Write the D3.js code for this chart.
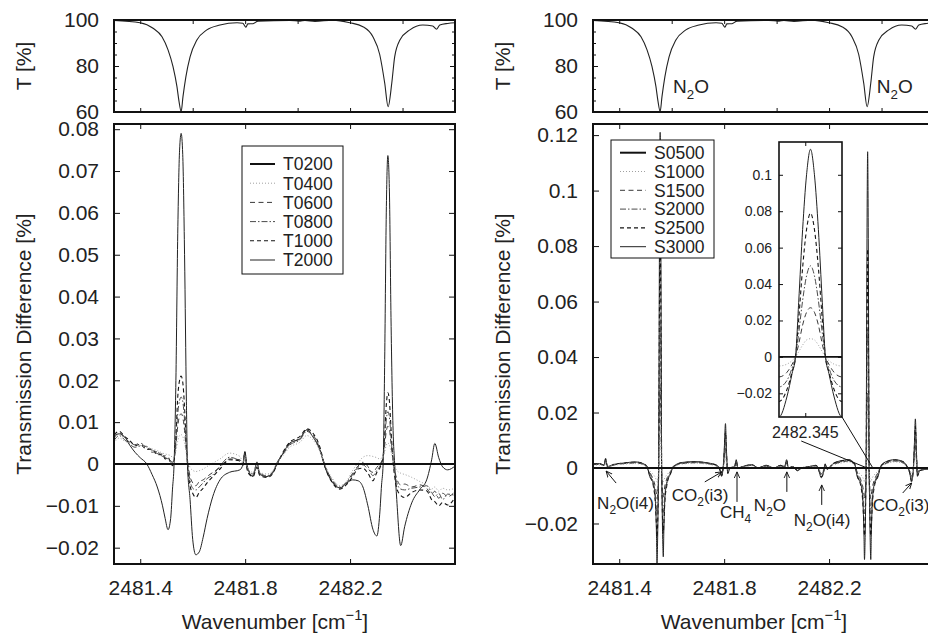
<!DOCTYPE html>
<html>
<head>
<meta charset="utf-8">
<script src="https://cdn.jsdelivr.net/npm/d3@7"></script>
<style>
  body { margin: 0; background: #fff; }
  svg { display: block; font-family: "Liberation Sans", Arial, sans-serif; }
</style>
</head>
<body>
<div id="wrapper"></div>
<script>
// 1. Data

// transmission of the cell (top panels), %
const transWave = [2481.300, 2481.399, 2481.449, 2481.483, 2481.506, 2481.525, 2481.540, 2481.548, 2481.556, 2481.563,
  2481.574, 2481.590, 2481.616, 2481.654, 2481.704, 2481.769, 2481.791, 2481.803, 2481.810, 2481.830,
  2481.849, 2481.970, 2482.009, 2482.028, 2482.066, 2482.134, 2482.199, 2482.249, 2482.287, 2482.313,
  2482.332, 2482.345, 2482.359, 2482.370, 2482.390, 2482.428, 2482.477, 2482.515, 2482.530, 2482.542,
  2482.572, 2482.600]
const transPct = [99.8, 98.8, 96.4, 92.7, 87.0, 79.7, 71.0, 64.5, 60.2, 66.7,
  75.3, 84.0, 91.3, 95.7, 97.8, 98.8, 98.6, 96.9, 98.3, 98.4,
  99.5, 99.8, 99.5, 99.8, 99.4, 99.9, 98.8, 97.1, 92.7, 85.0,
  72.6, 62.3, 72.6, 84.0, 91.3, 95.7, 97.8, 97.4, 96.0, 97.8,
  98.5, 98.8]

// reference runs (T0200, S0500) differ from themselves by nothing
const refWave = [2481.3, 2482.6]
const diffRef = [0, 0]

// left panel: temperature runs
const waveL = [2481.300, 2481.320, 2481.340, 2481.360, 2481.380, 2481.400, 2481.425, 2481.445, 2481.465, 2481.485,
  2481.495, 2481.506, 2481.516, 2481.523, 2481.529, 2481.536, 2481.543, 2481.550, 2481.556, 2481.562,
  2481.569, 2481.576, 2481.580, 2481.590, 2481.600, 2481.612, 2481.625, 2481.640, 2481.655, 2481.677,
  2481.704, 2481.740, 2481.780, 2481.792, 2481.799, 2481.806, 2481.812, 2481.830, 2481.845, 2481.856,
  2481.883, 2481.906, 2481.921, 2481.944, 2481.970, 2482.009, 2482.035, 2482.058, 2482.085, 2482.104,
  2482.134, 2482.161, 2482.188, 2482.210, 2482.230, 2482.249, 2482.268, 2482.287, 2482.302, 2482.313,
  2482.320, 2482.326, 2482.332, 2482.338, 2482.344, 2482.350, 2482.356, 2482.364, 2482.370, 2482.378,
  2482.393, 2482.408, 2482.435, 2482.466, 2482.492, 2482.511, 2482.523, 2482.538, 2482.553, 2482.572,
  2482.600]
const diffT0400 = [0.0050, 0.0062, 0.0055, 0.0050, 0.0045, 0.0044, 0.0040, 0.0036, 0.0032, 0.0026,
  0.0024, 0.0022, 0.0020, 0.0016, 0.0018, 0.0030, 0.0055, 0.0068, 0.0070, 0.0066,
  0.0050, 0.0025, 0.0012, -0.0008, -0.0015, -0.0018, -0.0016, -0.0012, -0.0006, 0.0002,
  0.0012, 0.0026, 0.0018, 0.0004, 0.0020, 0.0000, -0.0012, -0.0020, -0.0002, -0.0020,
  -0.0024, -0.0016, 0.0002, 0.0020, 0.0040, 0.0052, 0.0068, 0.0058, 0.0030, -0.0002,
  -0.0036, -0.0052, -0.0040, -0.0015, 0.0002, 0.0016, 0.0020, 0.0018, 0.0015, 0.0012,
  0.0014, 0.0018, 0.0030, 0.0045, 0.0050, 0.0046, 0.0030, 0.0008, -0.0005, -0.0015,
  -0.0022, -0.0025, -0.0032, -0.0042, -0.0050, -0.0060, -0.0055, -0.0065, -0.0058, -0.0062,
  -0.0058]
const diffT0600 = [0.0062, 0.0074, 0.0062, 0.0052, 0.0046, 0.0050, 0.0038, 0.0033, 0.0025, 0.0022,
  0.0015, 0.0012, 0.0008, 0.0004, 0.0012, 0.0045, 0.0090, 0.0115, 0.0120, 0.0112,
  0.0080, 0.0030, 0.0008, -0.0030, -0.0045, -0.0052, -0.0042, -0.0038, -0.0030, -0.0020,
  -0.0008, 0.0012, 0.0010, -0.0002, 0.0025, -0.0005, -0.0018, -0.0028, -0.0005, -0.0026,
  -0.0030, -0.0020, 0.0000, 0.0026, 0.0048, 0.0062, 0.0080, 0.0070, 0.0036, -0.0004,
  -0.0042, -0.0058, -0.0045, -0.0025, -0.0008, -0.0002, -0.0012, -0.0020, -0.0008, 0.0000,
  0.0006, 0.0015, 0.0045, 0.0078, 0.0090, 0.0082, 0.0050, 0.0010, -0.0015, -0.0035,
  -0.0050, -0.0048, -0.0055, -0.0050, -0.0058, -0.0072, -0.0065, -0.0082, -0.0070, -0.0078,
  -0.0066]
const diffT0800 = [0.0056, 0.0068, 0.0058, 0.0047, 0.0040, 0.0043, 0.0042, 0.0028, 0.0030, 0.0018,
  0.0020, 0.0010, 0.0005, 0.0000, 0.0010, 0.0055, 0.0120, 0.0152, 0.0160, 0.0150,
  0.0105, 0.0035, 0.0004, -0.0040, -0.0058, -0.0062, -0.0055, -0.0045, -0.0035, -0.0026,
  -0.0005, 0.0016, 0.0006, -0.0004, 0.0022, 0.0002, -0.0014, -0.0024, 0.0000, -0.0022,
  -0.0028, -0.0018, 0.0003, 0.0023, 0.0045, 0.0058, 0.0078, 0.0066, 0.0034, -0.0003,
  -0.0040, -0.0055, -0.0042, -0.0022, -0.0005, 0.0004, -0.0006, -0.0028, -0.0015, -0.0006,
  0.0004, 0.0016, 0.0058, 0.0105, 0.0125, 0.0112, 0.0065, 0.0008, -0.0022, -0.0045,
  -0.0060, -0.0062, -0.0058, -0.0055, -0.0052, -0.0068, -0.0078, -0.0070, -0.0085, -0.0072,
  -0.0075]
const diffT1000 = [0.0070, 0.0078, 0.0066, 0.0056, 0.0044, 0.0047, 0.0035, 0.0036, 0.0022, 0.0024,
  0.0012, 0.0016, 0.0003, -0.0004, 0.0008, 0.0065, 0.0160, 0.0200, 0.0210, 0.0196,
  0.0135, 0.0040, 0.0000, -0.0052, -0.0070, -0.0080, -0.0068, -0.0058, -0.0045, -0.0030,
  -0.0012, 0.0010, 0.0008, 0.0000, 0.0028, -0.0008, -0.0022, -0.0030, -0.0008, -0.0028,
  -0.0032, -0.0022, -0.0002, 0.0028, 0.0052, 0.0066, 0.0084, 0.0074, 0.0040, -0.0006,
  -0.0046, -0.0060, -0.0048, -0.0030, -0.0012, -0.0010, -0.0022, -0.0040, -0.0020, -0.0010,
  0.0002, 0.0018, 0.0070, 0.0140, 0.0170, 0.0150, 0.0085, 0.0005, -0.0030, -0.0058,
  -0.0075, -0.0080, -0.0068, -0.0062, -0.0064, -0.0085, -0.0090, -0.0100, -0.0092, -0.0098,
  -0.0080]
const diffT2000 = [0.0068, 0.0072, 0.0065, 0.0045, 0.0028, 0.0015, 0.0000, -0.0025, -0.0055, -0.0100,
  -0.0130, -0.0157, -0.0130, -0.0060, 0.0000, 0.0200, 0.0550, 0.0750, 0.0790, 0.0740,
  0.0500, 0.0150, 0.0000, -0.0085, -0.0180, -0.0217, -0.0210, -0.0175, -0.0130, -0.0077,
  -0.0038, -0.0020, -0.0014, 0.0000, 0.0030, 0.0000, -0.0015, -0.0030, 0.0005, -0.0025,
  -0.0030, -0.0020, 0.0000, 0.0025, 0.0050, 0.0060, 0.0082, 0.0065, 0.0033, -0.0007,
  -0.0045, -0.0057, -0.0045, -0.0038, -0.0040, -0.0055, -0.0100, -0.0156, -0.0172, -0.0120,
  -0.0050, 0.0000, 0.0250, 0.0600, 0.0737, 0.0650, 0.0350, 0.0080, 0.0000, -0.0085,
  -0.0195, -0.0150, -0.0093, -0.0061, -0.0038, 0.0010, 0.0049, 0.0015, -0.0007, -0.0014,
  -0.0005]

// right panel: pressure runs
const waveR = [2481.300, 2481.325, 2481.342, 2481.348, 2481.355, 2481.380, 2481.420, 2481.460, 2481.490, 2481.506,
  2481.516, 2481.531, 2481.538, 2481.542, 2481.544, 2481.547, 2481.549, 2481.5503, 2481.5515, 2481.553,
  2481.5545, 2481.556, 2481.5575, 2481.559, 2481.5605, 2481.5617, 2481.563, 2481.565, 2481.568, 2481.570,
  2481.574, 2481.581, 2481.596, 2481.606, 2481.640, 2481.690, 2481.740, 2481.772, 2481.785, 2481.790,
  2481.796, 2481.801, 2481.805, 2481.809, 2481.814, 2481.822, 2481.840, 2481.846, 2481.852, 2481.880,
  2481.905, 2481.930, 2481.960, 2481.990, 2482.015, 2482.031, 2482.038, 2482.045, 2482.062, 2482.080,
  2482.095, 2482.125, 2482.150, 2482.160, 2482.170, 2482.178, 2482.185, 2482.192, 2482.215, 2482.245,
  2482.275, 2482.297, 2482.307, 2482.322, 2482.329, 2482.333, 2482.335, 2482.338, 2482.340, 2482.3413,
  2482.3425, 2482.344, 2482.3455, 2482.347, 2482.3485, 2482.350, 2482.3515, 2482.3527, 2482.354, 2482.356,
  2482.359, 2482.361, 2482.365, 2482.372, 2482.387, 2482.397, 2482.420, 2482.450, 2482.480, 2482.500,
  2482.508, 2482.514, 2482.520, 2482.525, 2482.529, 2482.533, 2482.537, 2482.545, 2482.565, 2482.600]
const diffS1000 = [0.0010, 0.0011, 0.0008, 0.0015, 0.0004, 0.0010, 0.0014, 0.0016, 0.0012, 0.0002,
  -0.0010, -0.0025, -0.0035, -0.0045, -0.0050, -0.0040, -0.0020, 0.0000, 0.0030, 0.0070,
  0.0100, 0.0110, 0.0100, 0.0070, 0.0030, 0.0000, -0.0020, -0.0040, -0.0050, -0.0045,
  -0.0035, -0.0025, -0.0010, 0.0002, 0.0014, 0.0017, 0.0013, 0.0006, -0.0005, -0.0012,
  0.0000, 0.0020, 0.0040, 0.0015, -0.0008, 0.0000, 0.0004, 0.0012, 0.0000, 0.0005,
  0.0008, 0.0001, 0.0006, 0.0001, 0.0006, 0.0003, 0.0012, 0.0000, 0.0003, -0.0004,
  0.0000, 0.0004, 0.0006, -0.0002, -0.0014, -0.0008, 0.0006, -0.0002, 0.0010, 0.0018,
  0.0022, 0.0010, -0.0010, -0.0025, -0.0035, -0.0045, -0.0050, -0.0040, -0.0020, 0.0000,
  0.0028, 0.0065, 0.0093, 0.0100, 0.0093, 0.0065, 0.0028, 0.0000, -0.0020, -0.0040,
  -0.0050, -0.0045, -0.0035, -0.0025, -0.0010, 0.0003, 0.0015, 0.0022, 0.0017, 0.0000,
  -0.0008, -0.0020, -0.0008, 0.0020, 0.0045, 0.0015, -0.0010, -0.0004, -0.0002, 0.0000]
const diffS1500 = [0.0012, 0.0013, 0.0009, 0.0022, 0.0005, 0.0011, 0.0016, 0.0018, 0.0014, 0.0002,
  -0.0015, -0.0045, -0.0070, -0.0095, -0.0110, -0.0085, -0.0040, 0.0000, 0.0075, 0.0185,
  0.0260, 0.0290, 0.0260, 0.0185, 0.0075, 0.0000, -0.0040, -0.0085, -0.0105, -0.0090,
  -0.0065, -0.0040, -0.0012, 0.0003, 0.0016, 0.0019, 0.0015, 0.0007, -0.0006, -0.0018,
  0.0000, 0.0035, 0.0070, 0.0028, -0.0012, 0.0000, 0.0004, 0.0018, 0.0000, 0.0006,
  0.0010, 0.0001, 0.0007, 0.0000, 0.0007, 0.0004, 0.0018, 0.0000, 0.0004, -0.0006,
  0.0000, 0.0005, 0.0007, -0.0003, -0.0021, -0.0012, 0.0009, -0.0003, 0.0012, 0.0021,
  0.0025, 0.0012, -0.0015, -0.0045, -0.0070, -0.0095, -0.0110, -0.0085, -0.0040, 0.0000,
  0.0070, 0.0175, 0.0245, 0.0270, 0.0245, 0.0175, 0.0070, 0.0000, -0.0040, -0.0085,
  -0.0110, -0.0095, -0.0070, -0.0045, -0.0015, 0.0004, 0.0018, 0.0025, 0.0020, 0.0000,
  -0.0012, -0.0030, -0.0012, 0.0040, 0.0085, 0.0030, -0.0016, -0.0006, -0.0003, 0.0000]
const diffS2000 = [0.0013, 0.0014, 0.0010, 0.0027, 0.0005, 0.0012, 0.0017, 0.0020, 0.0015, 0.0003,
  -0.0020, -0.0060, -0.0100, -0.0150, -0.0165, -0.0130, -0.0060, 0.0000, 0.0140, 0.0330,
  0.0470, 0.0530, 0.0470, 0.0330, 0.0140, 0.0000, -0.0060, -0.0130, -0.0160, -0.0140,
  -0.0095, -0.0055, -0.0015, 0.0004, 0.0018, 0.0021, 0.0016, 0.0008, -0.0008, -0.0023,
  0.0000, 0.0050, 0.0100, 0.0038, -0.0015, 0.0000, 0.0005, 0.0023, 0.0000, 0.0007,
  0.0011, 0.0001, 0.0008, 0.0000, 0.0008, 0.0004, 0.0023, 0.0000, 0.0004, -0.0008,
  0.0000, 0.0005, 0.0008, -0.0004, -0.0027, -0.0015, 0.0011, -0.0004, 0.0014, 0.0023,
  0.0027, 0.0014, -0.0020, -0.0060, -0.0100, -0.0150, -0.0165, -0.0130, -0.0060, 0.0000,
  0.0130, 0.0310, 0.0445, 0.0500, 0.0445, 0.0310, 0.0130, 0.0000, -0.0060, -0.0130,
  -0.0165, -0.0150, -0.0100, -0.0060, -0.0020, 0.0005, 0.0020, 0.0027, 0.0022, 0.0000,
  -0.0015, -0.0038, -0.0015, 0.0055, 0.0120, 0.0042, -0.0022, -0.0008, -0.0004, 0.0000]
const diffS2500 = [0.0014, 0.0015, 0.0010, 0.0031, 0.0005, 0.0013, 0.0018, 0.0021, 0.0016, 0.0004,
  -0.0025, -0.0070, -0.0130, -0.0210, -0.0250, -0.0180, -0.0080, 0.0000, 0.0220, 0.0520,
  0.0740, 0.0840, 0.0740, 0.0520, 0.0220, 0.0000, -0.0080, -0.0180, -0.0235, -0.0200,
  -0.0120, -0.0065, -0.0018, 0.0005, 0.0019, 0.0022, 0.0017, 0.0009, -0.0009, -0.0027,
  0.0000, 0.0065, 0.0130, 0.0050, -0.0018, 0.0000, 0.0005, 0.0027, 0.0000, 0.0008,
  0.0012, 0.0000, 0.0009, 0.0000, 0.0009, 0.0005, 0.0027, 0.0000, 0.0005, -0.0009,
  0.0000, 0.0005, 0.0009, -0.0005, -0.0032, -0.0018, 0.0013, -0.0004, 0.0015, 0.0025,
  0.0029, 0.0015, -0.0025, -0.0070, -0.0130, -0.0210, -0.0245, -0.0180, -0.0080, 0.0000,
  0.0205, 0.0490, 0.0700, 0.0790, 0.0700, 0.0490, 0.0205, 0.0000, -0.0080, -0.0180,
  -0.0245, -0.0210, -0.0130, -0.0070, -0.0025, 0.0006, 0.0022, 0.0029, 0.0023, 0.0000,
  -0.0018, -0.0045, -0.0018, 0.0068, 0.0150, 0.0052, -0.0027, -0.0009, -0.0005, 0.0000]
const diffS3000 = [0.0015, 0.0016, 0.0010, 0.0035, 0.0005, 0.0013, 0.0018, 0.0022, 0.0016, 0.0005,
  -0.0030, -0.0060, -0.0120, -0.0240, -0.0345, -0.0220, -0.0090, 0.0000, 0.0320, 0.0740,
  0.1060, 0.1210, 0.1060, 0.0740, 0.0320, 0.0000, -0.0090, -0.0220, -0.0320, -0.0230,
  -0.0110, -0.0055, -0.0020, 0.0005, 0.0020, 0.0023, 0.0018, 0.0010, -0.0010, -0.0030,
  0.0000, 0.0080, 0.0160, 0.0060, -0.0020, 0.0000, 0.0005, 0.0030, 0.0000, 0.0008,
  0.0012, 0.0000, 0.0010, 0.0000, 0.0010, 0.0005, 0.0030, 0.0000, 0.0005, -0.0010,
  0.0000, 0.0005, 0.0010, -0.0005, -0.0035, -0.0020, 0.0015, -0.0005, 0.0016, 0.0026,
  0.0030, 0.0016, -0.0030, -0.0060, -0.0120, -0.0240, -0.0330, -0.0220, -0.0090, 0.0000,
  0.0300, 0.0700, 0.1000, 0.1140, 0.1000, 0.0700, 0.0300, 0.0000, -0.0090, -0.0220,
  -0.0330, -0.0240, -0.0120, -0.0060, -0.0030, 0.0007, 0.0024, 0.0030, 0.0024, 0.0000,
  -0.0020, -0.0050, -0.0020, 0.0080, 0.0177, 0.0060, -0.0030, -0.0010, -0.0005, 0.0000]

const namesL = ["T0200", "T0400", "T0600", "T0800", "T1000", "T2000"]
const namesR = ["S0500", "S1000", "S1500", "S2000", "S2500", "S3000"]

// ticks
const waveDomain = [2481.3, 2482.6]
const xTickLabels = [2481.4, 2481.8, 2482.2]
const xTicksTrans = [2481.4, 2481.6, 2481.8, 2482.0, 2482.2, 2482.4]
const yTicksTrans = [60, 80, 100]
const yTicksTransMinor = [65, 70, 75, 85, 90, 95]
const yTicksLeft = [-0.02, -0.01, 0, 0.01, 0.02, 0.03, 0.04, 0.05, 0.06, 0.07, 0.08]
const yTicksRight = [-0.02, 0, 0.02, 0.04, 0.06, 0.08, 0.1, 0.12]
const yTicksInset = [-0.02, 0, 0.02, 0.04, 0.06, 0.08, 0.1]
const insetWave = 2482.345

async function drawSpectra() {

  // 2. Dimensions
  const dims = {
    width: 928,
    height: 635,
    shift: 479,
    left: 114,
    plotWidth: 341,
    trans: { top: 20, bottom: 112 },
    diff: { top: 124, bottom: 564 },
    font: 21,
  }

  const lineStyles = [
    { stroke: "#111", width: 2, dash: null },
    { stroke: "#a0a0a0", width: 1, dash: "1,2" },
    { stroke: "#3a3a3a", width: 1, dash: "5,3.5" },
    { stroke: "#4a4a4a", width: 1, dash: "6,2,1.5,2" },
    { stroke: "#151515", width: 1.1, dash: "4,3" },
    { stroke: "#222", width: 1, dash: null },
  ]

  const seriesL = [
    { name: namesL[0], wave: refWave, values: diffRef },
    { name: namesL[1], wave: waveL, values: diffT0400 },
    { name: namesL[2], wave: waveL, values: diffT0600 },
    { name: namesL[3], wave: waveL, values: diffT0800 },
    { name: namesL[4], wave: waveL, values: diffT1000 },
    { name: namesL[5], wave: waveL, values: diffT2000 },
  ]
  const seriesR = [
    { name: namesR[0], wave: refWave, values: diffRef },
    { name: namesR[1], wave: waveR, values: diffS1000 },
    { name: namesR[2], wave: waveR, values: diffS1500 },
    { name: namesR[3], wave: waveR, values: diffS2000 },
    { name: namesR[4], wave: waveR, values: diffS2500 },
    { name: namesR[5], wave: waveR, values: diffS3000 },
  ]

  // 3. Canvas
  const wrapper = d3.select("#wrapper")
    .append("svg")
      .attr("width", dims.width)
      .attr("height", dims.height)

  const defs = wrapper.append("defs")
  defs.append("marker")
      .attr("id", "arrow")
      .attr("viewBox", "0 0 10 10")
      .attr("refX", 9)
      .attr("refY", 5)
      .attr("markerWidth", 7)
      .attr("markerHeight", 7)
      .attr("orient", "auto")
    .append("path")
      .attr("d", "M0,1 L9,5 L0,9")
      .attr("fill", "none")
      .attr("stroke", "#111")
      .attr("stroke-width", 1.3)

  let clipCount = 0
  const clipRect = (x0, y0, w, h) => {
    const id = "clip" + (clipCount++)
    defs.append("clipPath").attr("id", id)
      .append("rect").attr("x", x0).attr("y", y0).attr("width", w).attr("height", h)
    return `url(#${id})`
  }

  const styleAxis = (sel, size) => {
    sel.attr("font-family", null).attr("font-size", null)
    sel.select(".domain").remove()
    sel.selectAll(".tick line").attr("stroke", "#111").attr("stroke-width", 1)
    sel.selectAll(".tick text").attr("fill", "#222").style("font-size", size + "px")
  }

  const addRich = (textSel, parts, size) => {
    let shift = 0
    parts.forEach(([t, kind]) => {
      const target = kind === "sub" ? size * 0.3 : kind === "sup" ? -size * 0.42 : 0
      textSel.append("tspan")
        .attr("dy", target - shift)
        .attr("font-size", kind ? size * 0.7 : size)
        .text(t)
      shift = target
    })
  }

  const frame = (g, x, y) => {
    const [x0, x1] = x.range()
    const [y1, y0] = y.range()
    g.append("rect")
      .attr("x", x0).attr("y", y0)
      .attr("width", x1 - x0).attr("height", y1 - y0)
      .attr("fill", "none").attr("stroke", "#111").attr("stroke-width", 2)
  }

  const drawSeries = (g, list, x, y, clip, opts = {}) => {
    const lineGenerator = d3.line()
      .x(d => x(d[0]))
      .y(d => y(d[1]))
      .curve(d3.curveMonotoneX)
    const layer = g.append("g").attr("clip-path", clip)
    // heaviest run first, the reference line last
    d3.range(list.length - 1, -1, -1).forEach(i => {
      const s = list[i]
      const st = lineStyles[i]
      layer.append("path")
        .datum(d3.zip(s.wave, s.values))
        .attr("d", lineGenerator)
        .attr("fill", "none")
        .attr("stroke", st.stroke)
        .attr("stroke-width", opts.refWidth && i === 0 ? opts.refWidth : st.width)
        .attr("stroke-dasharray", st.dash)
    })
  }

  // 4. Panels
  const panels = [
    {
      shift: 0, series: seriesL,
      diffDomain: [-0.02390, 0.08124], diffTicks: yTicksLeft,
      legend: { x: 242, y: 146, w: 101, h: 128, row0: 164, step: 19.2, line: [250, 275], text: 283 },
    },
    {
      shift: dims.shift, series: seriesR,
      diffDomain: [-0.0346, 0.1240], diffTicks: yTicksRight,
      legend: { x: 611, y: 140, w: 103, h: 118, row0: 152.7, step: 18.8, line: [620, 646], text: 654 },
    },
  ]

  const fmtY = d3.format("~g")

  panels.forEach((p, pi) => {
    const g = wrapper.append("g")
    const x0 = dims.left + p.shift
    const x = d3.scaleLinear().domain(waveDomain).range([x0, x0 + dims.plotWidth])
    const yT = d3.scaleLinear().domain([60, 100]).range([dims.trans.bottom, dims.trans.top])
    const yD = d3.scaleLinear().domain(p.diffDomain).range([dims.diff.bottom, dims.diff.top])

    // top: transmission
    const clipT = clipRect(x0, dims.trans.top, dims.plotWidth, dims.trans.bottom - dims.trans.top)
    g.append("g").attr("clip-path", clipT)
      .append("path")
        .datum(d3.zip(transWave, transPct))
        .attr("d", d3.line().x(d => x(d[0])).y(d => yT(d[1])).curve(d3.curveMonotoneX))
        .attr("fill", "none")
        .attr("stroke", "#222")
        .attr("stroke-width", 1.1)

    g.append("g").attr("transform", `translate(0,${dims.trans.bottom})`)
      .call(d3.axisBottom(x).tickValues(xTicksTrans).tickSize(-4).tickFormat(""))
      .call(styleAxis, dims.font)
    g.append("g").attr("transform", `translate(0,${dims.trans.top})`)
      .call(d3.axisTop(x).tickValues(xTicksTrans).tickSize(-4).tickFormat(""))
      .call(styleAxis, dims.font)
    g.append("g").attr("transform", `translate(${x0},0)`)
      .call(d3.axisLeft(yT).tickValues(yTicksTrans).tickSize(-5).tickPadding(15).tickFormat(d3.format("d")))
      .call(styleAxis, dims.font)
    g.append("g").attr("transform", `translate(${x0},0)`)
      .call(d3.axisLeft(yT).tickValues(yTicksTransMinor).tickSize(-3).tickFormat(""))
      .call(styleAxis, dims.font)
    g.append("g").attr("transform", `translate(${x0 + dims.plotWidth},0)`)
      .call(d3.axisRight(yT).tickValues(yTicksTrans).tickSize(-5).tickFormat(""))
      .call(styleAxis, dims.font)
    g.append("g").attr("transform", `translate(${x0 + dims.plotWidth},0)`)
      .call(d3.axisRight(yT).tickValues(yTicksTransMinor).tickSize(-3).tickFormat(""))
      .call(styleAxis, dims.font)
    frame(g, x, yT)

    g.append("text")
      .attr("transform", `translate(${31 + p.shift},${(dims.trans.top + dims.trans.bottom) / 2}) rotate(-90)`)
      .attr("text-anchor", "middle")
      .attr("font-size", dims.font)
      .attr("fill", "#222")
      .text("T [%]")

    // bottom: difference
    const clipD = clipRect(x0, dims.diff.top, dims.plotWidth, dims.diff.bottom - dims.diff.top)
    drawSeries(g, p.series, x, yD, clipD)

    g.append("g").attr("transform", `translate(0,${dims.diff.bottom})`)
      .call(d3.axisBottom(x).tickValues(xTickLabels).tickSize(-5).tickPadding(16).tickFormat(d3.format(".1f")))
      .call(styleAxis, dims.font)
    g.append("g").attr("transform", `translate(0,${dims.diff.top})`)
      .call(d3.axisTop(x).tickValues(xTickLabels).tickSize(-5).tickFormat(""))
      .call(styleAxis, dims.font)
    g.append("g").attr("transform", `translate(${x0},0)`)
      .call(d3.axisLeft(yD).tickValues(p.diffTicks).tickSize(-6).tickPadding(15).tickFormat(fmtY))
      .call(styleAxis, dims.font)
    g.append("g").attr("transform", `translate(${x0 + dims.plotWidth},0)`)
      .call(d3.axisRight(yD).tickValues(p.diffTicks).tickSize(-6).tickFormat(""))
      .call(styleAxis, dims.font)
    frame(g, x, yD)

    g.append("text")
      .attr("transform", `translate(${31 + p.shift},${(dims.diff.top + dims.diff.bottom) / 2}) rotate(-90)`)
      .attr("text-anchor", "middle")
      .attr("font-size", dims.font)
      .attr("fill", "#222")
      .text("Transmission Difference [%]")

    const xTitle = g.append("text")
      .attr("x", 275 + p.shift)
      .attr("y", 629)
      .attr("text-anchor", "middle")
      .attr("fill", "#222")
    addRich(xTitle, [["Wavenumber [cm"], ["\u22121", "sup"], ["]"]], dims.font)

    // legend
    const L = p.legend
    const legend = g.append("g")
    legend.append("rect")
      .attr("x", L.x).attr("y", L.y).attr("width", L.w).attr("height", L.h)
      .attr("fill", "#fff").attr("stroke", "#111").attr("stroke-width", 1)
    p.series.forEach((s, i) => {
      const st = lineStyles[i]
      const yy = L.row0 + i * L.step
      legend.append("line")
        .attr("x1", L.line[0]).attr("x2", L.line[1])
        .attr("y1", yy).attr("y2", yy)
        .attr("stroke", st.stroke)
        .attr("stroke-width", st.width)
        .attr("stroke-dasharray", st.dash)
      legend.append("text")
        .attr("x", L.text).attr("y", yy).attr("dy", "0.36em")
        .attr("font-size", 17.5)
        .attr("fill", "#222")
        .text(s.name)
    })

    if (pi === 1) drawRightExtras(g, x, yT, yD)
  })

  // 5. Right panel: labels, arrows and the zoomed inset
  function drawRightExtras(g, x, yT, yD) {
    const topLabels = [
      { wave: 2481.605, pct: 68.3 },
      { wave: 2482.382, pct: 68.3 },
    ]
    topLabels.forEach(l => {
      const t = g.append("text").attr("x", x(l.wave)).attr("y", yT(l.pct)).attr("fill", "#222")
      addRich(t, [["N"], ["2", "sub"], ["O"]], 19)
    })

    const notes = [
      { parts: [["N"], ["2", "sub"], ["O(i4)"]], wave: 2481.350, value: -0.0011, tail: [10, 12], text: [-9, 38] },
      { parts: [["CO"], ["2", "sub"], ["(i3)"]], wave: 2481.791, value: -0.0014, tail: [-17, 10], text: [-50, 29] },
      { parts: [["CH"], ["4", "sub"]], wave: 2481.849, value: -0.0014, tail: [0, 30], text: [-17, 46] },
      { parts: [["N"], ["2", "sub"], ["O"]], wave: 2482.039, value: -0.0014, tail: [0, 20], text: [-33, 39] },
      { parts: [["N"], ["2", "sub"], ["O(i4)"]], wave: 2482.172, value: -0.0061, tail: [0, 20], text: [-28, 41] },
      { parts: [["CO"], ["2", "sub"], ["(i3)"]], wave: 2482.515, value: -0.0054, tail: [-9, 10], text: [-39, 28] },
    ]
    notes.forEach(n => {
      const tx = x(n.wave), ty = yD(n.value)
      g.append("line")
        .attr("x1", tx + n.tail[0]).attr("y1", ty + n.tail[1])
        .attr("x2", tx).attr("y2", ty)
        .attr("stroke", "#111").attr("stroke-width", 1)
        .attr("marker-end", "url(#arrow)")
      const t = g.append("text").attr("x", tx + n.text[0]).attr("y", ty + n.text[1]).attr("fill", "#222")
      addRich(t, n.parts, 17)
    })

    // inset
    const box = { x: 779, y: 142, w: 63, h: 275 }
    const xI = d3.scaleLinear().domain([2482.335, 2482.359]).range([box.x, box.x + box.w])
    const yI = d3.scaleLinear().domain([-0.033, 0.118]).range([box.y + box.h, box.y])

    // pointers from the inset to the line in the main plot
    g.append("line")
      .attr("x1", box.x + box.w).attr("y1", box.y + box.h)
      .attr("x2", x(2482.367)).attr("y2", yD(0))
      .attr("stroke", "#111").attr("stroke-width", 1)
    g.append("line")
      .attr("x1", xI(insetWave) - 4).attr("y1", box.y + box.h + 24)
      .attr("x2", x(insetWave)).attr("y2", yD(0))
      .attr("stroke", "#111").attr("stroke-width", 1)

    const inset = g.append("g")
    inset.append("rect")
      .attr("x", box.x).attr("y", box.y).attr("width", box.w).attr("height", box.h)
      .attr("fill", "#fff")
    drawSeries(inset, seriesR, xI, yI, clipRect(box.x, box.y, box.w, box.h), { refWidth: 1.6 })

    inset.append("g").attr("transform", `translate(${box.x},0)`)
      .call(d3.axisLeft(yI).tickValues(yTicksInset).tickSize(-4).tickPadding(7).tickFormat(fmtY))
      .call(styleAxis, 14)
    inset.append("g").attr("transform", `translate(${box.x + box.w},0)`)
      .call(d3.axisRight(yI).tickValues(yTicksInset).tickSize(-4).tickFormat(""))
      .call(styleAxis, 14)
    inset.append("g").attr("transform", `translate(0,${box.y + box.h})`)
      .call(d3.axisBottom(xI).tickValues([insetWave]).tickSize(-4).tickFormat(""))
      .call(styleAxis, 14)
    inset.append("g").attr("transform", `translate(0,${box.y})`)
      .call(d3.axisTop(xI).tickValues([insetWave]).tickSize(-4).tickFormat(""))
      .call(styleAxis, 14)
    inset.append("rect")
      .attr("x", box.x).attr("y", box.y).attr("width", box.w).attr("height", box.h)
      .attr("fill", "none").attr("stroke", "#111").attr("stroke-width", 1.6)

    inset.append("text")
      .attr("x", xI(insetWave)).attr("y", box.y + box.h + 21)
      .attr("text-anchor", "middle")
      .attr("font-size", 16)
      .attr("fill", "#222")
      .text(d3.format(".3f")(insetWave))
  }
}
drawSpectra()
</script>
</body>
</html>
